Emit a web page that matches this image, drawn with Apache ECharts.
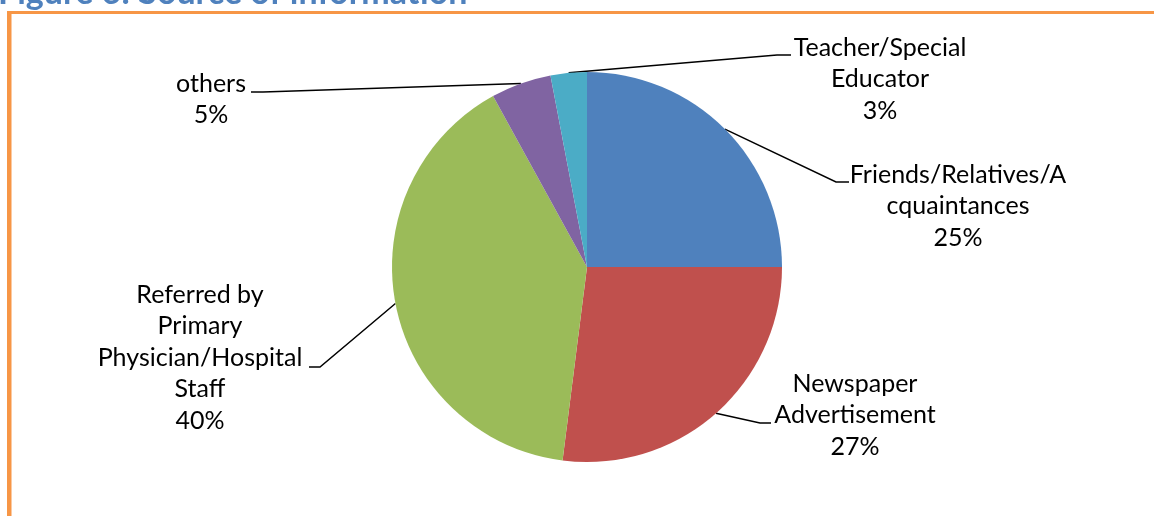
<!DOCTYPE html>
<html>
<head>
<meta charset="utf-8">
<title>Figure 6: Source of information</title>
<script src="https://cdn.jsdelivr.net/npm/echarts@6/dist/echarts.min.js"></script>
<style>
  html, body { margin: 0; padding: 0; background: #ffffff; }
  #chart { width: 1154px; height: 516px; }
</style>
</head>
<body>
<div id="chart"></div>
<script>
// Source of information, share of respondents (%)
const categories = [
  'Friends/Relatives/A\ncquaintances',
  'Newspaper\nAdvertisement',
  'Referred by\nPrimary\nPhysician/Hospital\nStaff',
  'others',
  'Teacher/Special\nEducator'
];
const shares = [25, 27, 40, 5, 3];
const sliceColors = ['#4F81BD', '#C0504D', '#9BBB59', '#8064A2', '#4BACC6'];

// Placement of each callout: text centre x, top y, and the leader-line elbow/end
const callouts = [
  { x: 958, y: 159, elbow: [836, 182], end: [849, 182] },
  { x: 855, y: 368, elbow: [760, 423], end: [771, 423] },
  { x: 200, y: 279, elbow: [320, 367], end: [309, 367] },
  { x: 211, y: 68,  elbow: [263, 92],  end: [251, 92] },
  { x: 880, y: 32,  elbow: [777, 55],  end: [791, 55] }
];

const chart = echarts.init(document.getElementById('chart'), null, { renderer: 'canvas' });

chart.setOption({
  backgroundColor: '#ffffff',
  animation: false,
  graphic: [
    {
      type: 'text',
      left: -2,
      top: -24,
      style: {
        text: 'Figure 6: Source of information',
        fill: '#4F81BD',
        font: 'bold 34px Lato, "Open Sans", sans-serif'
      },
      z: 1
    },
    {
      type: 'rect',
      shape: { x: 7, y: 11, width: 1147, height: 3 },
      style: { fill: '#F79646' },
      z: 2
    },
    {
      type: 'rect',
      shape: { x: 7, y: 11, width: 4.5, height: 505 },
      style: { fill: '#F79646' },
      z: 2
    }
  ],
  series: [{
    type: 'pie',
    center: [587, 267],
    radius: 195,
    startAngle: 90,
    clockwise: true,
    percentPrecision: 0,
    avoidLabelOverlap: false,
    data: categories.map((name, i) => ({
      name: name,
      value: shares[i],
      itemStyle: { color: sliceColors[i] }
    })),
    itemStyle: { borderWidth: 0 },
    emphasis: { disabled: true },
    label: {
      show: true,
      position: 'outside',
      formatter: '{b}\n{d}%',
      color: '#000000',
      fontFamily: 'Lato, "Open Sans", sans-serif',
      fontSize: 25,
      lineHeight: 31.5,
      align: 'center'
    },
    labelLine: {
      show: true,
      lineStyle: { color: '#000000', width: 1.5 }
    },
    labelLayout: function (params) {
      const c = callouts[params.dataIndex];
      const start = params.labelLinePoints[0];
      return {
        x: c.x,
        y: c.y,
        align: 'center',
        verticalAlign: 'top',
        labelLinePoints: [start, c.elbow, c.end]
      };
    }
  }]
});
</script>
</body>
</html>
